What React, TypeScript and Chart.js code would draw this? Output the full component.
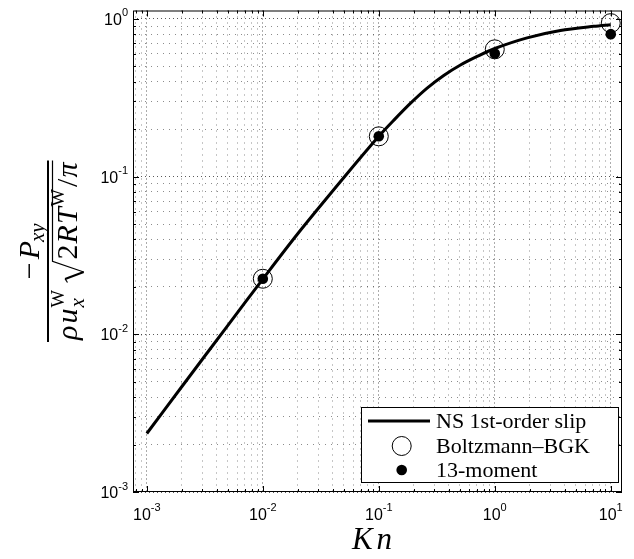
import React, { useEffect, useRef } from "react";
import { Chart, registerables } from "chart.js";

Chart.register(...registerables);

// ---------- data ----------
const knCurve = [0.001, 0.002, 0.005, 0.01, 0.02, 0.05, 0.1, 0.135, 0.188, 0.261, 0.363, 0.506, 0.705, 1, 1.9, 3.68, 7.13, 10];
const nsSlip = [0.00235, 0.00465, 0.0114, 0.0224, 0.0434, 0.0986, 0.18, 0.228, 0.292, 0.364, 0.438, 0.51, 0.578, 0.649, 0.758, 0.843, 0.897, 0.918];
const knPoints = [0.01, 0.1, 1, 10];
const bgkValues = [0.0225, 0.18, 0.641, 0.94];
const moment13Values = [0.0225, 0.18, 0.603, 0.8];

const xTickValues = [1e-3, 1e-2, 1e-1, 1, 10];
const xTickExponents = ["-3", "-2", "-1", "0", "1"];
const yTickValues = [1e-3, 1e-2, 1e-1, 1];
const yTickExponents = ["-3", "-2", "-1", "0"];
const seriesLabels = ["NS 1st-order slip", "Boltzmann\u2013BGK", "13-moment"];

const X_MIN = 7.6e-4;
const X_MAX = 12.5;
const Y_MIN = 1e-3;
const Y_MAX = 1.13;

const W = 634;
const H = 559;

function isMajor(v: number, majors: number[]) {
  return majors.some((m) => Math.abs(v - m) / m < 1e-6);
}

function gridValues(majors: number[], min: number, max: number) {
  const out: number[] = [];
  const decades = [majors[0] / 10, ...majors];
  for (const d of decades) {
    for (let m = 1; m <= 9; m++) {
      const v = d * m;
      if (v >= min * 0.9999 && v <= max * 1.0001) out.push(v);
    }
  }
  return out;
}

const serif = '"Liberation Serif", "Times New Roman", serif';
const sans = '"Liberation Sans", Arial, sans-serif';

type Run = { t: string; f: string; dy?: number; gap?: number; noAdvance?: boolean; sqrtStart?: boolean; sqrtEnd?: boolean };

function drawRuns(ctx: CanvasRenderingContext2D, runs: Run[], baseline: number, centerX: number, S: number) {
  let x = 0;
  const pos: number[] = [];
  let pendingStackW = 0;
  let sqrtX = 0;
  for (const r of runs) {
    x += r.gap || 0;
    if (r.sqrtStart) {
      sqrtX = x;
      x += 0.82 * S;
    }
    ctx.font = r.f;
    const w = ctx.measureText(r.t).width;
    pos.push(x);
    if (r.noAdvance) {
      pendingStackW = Math.max(pendingStackW, w);
    } else {
      x += Math.max(w, pendingStackW);
      pendingStackW = 0;
    }
  }
  const total = x;
  const x0 = centerX - total / 2;
  let sqrtEndX = 0;
  runs.forEach((r, i) => {
    ctx.font = r.f;
    ctx.fillText(r.t, x0 + pos[i], baseline + (r.dy || 0));
    if (r.sqrtEnd) {
      sqrtEndX = x0 + pos[i] + ctx.measureText(r.t).width + 2;
    }
  });
  if (sqrtEndX) {
    const sx = x0 + sqrtX;
    const vincY = baseline - 0.8 * S;
    ctx.save();
    ctx.lineJoin = "miter";
    ctx.lineCap = "butt";
    ctx.beginPath();
    ctx.lineWidth = 1.2;
    ctx.moveTo(sx + 0.05 * S, baseline - 0.3 * S);
    ctx.lineTo(sx + 0.17 * S, baseline - 0.38 * S);
    ctx.stroke();
    ctx.beginPath();
    ctx.lineWidth = 2.2;
    ctx.moveTo(sx + 0.17 * S, baseline - 0.38 * S);
    ctx.lineTo(sx + 0.4 * S, baseline + 0.24 * S);
    ctx.stroke();
    ctx.beginPath();
    ctx.lineWidth = 1.2;
    ctx.moveTo(sx + 0.4 * S, baseline + 0.24 * S);
    ctx.lineTo(sx + 0.76 * S, vincY);
    ctx.lineTo(sqrtEndX, vincY);
    ctx.stroke();
    ctx.restore();
  }
  return total;
}

const decorPlugin = {
  id: "matlabDecor",
  afterDraw(chart: any) {
    const { ctx, chartArea: ca, scales } = chart;
    const xs = scales.x;
    const ys = scales.y;
    ctx.save();
    ctx.fillStyle = "#000";
    ctx.strokeStyle = "#000";

    // inner tick marks
    ctx.lineWidth = 1;
    for (const t of xs.ticks) {
      const px = Math.round(xs.getPixelForValue(t.value)) + 0.5;
      const len = isMajor(t.value, xTickValues) ? 6 : 3;
      ctx.beginPath();
      ctx.moveTo(px, ca.bottom);
      ctx.lineTo(px, ca.bottom - len);
      ctx.moveTo(px, ca.top);
      ctx.lineTo(px, ca.top + len);
      ctx.stroke();
    }
    for (const t of ys.ticks) {
      const py = Math.round(ys.getPixelForValue(t.value)) + 0.5;
      const len = isMajor(t.value, yTickValues) ? 6 : 3;
      ctx.beginPath();
      ctx.moveTo(ca.left, py);
      ctx.lineTo(ca.left + len, py);
      ctx.moveTo(ca.right, py);
      ctx.lineTo(ca.right - len, py);
      ctx.stroke();
    }

    // axes box
    ctx.lineWidth = 1;
    ctx.strokeRect(ca.left + 0.5, ca.top + 0.5, ca.right - ca.left - 1, ca.bottom - ca.top - 1);

    // tick labels
    const f10 = `16px ${sans}`;
    const fsup = `11px ${sans}`;
    ctx.textBaseline = "alphabetic";
    ctx.textAlign = "left";
    xTickValues.forEach((v, i) => {
      const px = xs.getPixelForValue(v);
      ctx.font = f10;
      const w10 = ctx.measureText("10").width;
      ctx.font = fsup;
      const ws = ctx.measureText(xTickExponents[i]).width;
      const x0 = px - (w10 + ws) / 2;
      ctx.font = f10;
      ctx.fillText("10", x0, ca.bottom + 28);
      ctx.font = fsup;
      ctx.fillText(xTickExponents[i], x0 + w10, ca.bottom + 19);
    });
    yTickValues.forEach((v, i) => {
      const py = ys.getPixelForValue(v);
      ctx.font = f10;
      const w10 = ctx.measureText("10").width;
      ctx.font = fsup;
      const ws = ctx.measureText(yTickExponents[i]).width;
      const right = ca.left - 5;
      const x0 = right - ws - w10;
      ctx.font = f10;
      ctx.fillText("10", x0, py + 6);
      ctx.font = fsup;
      ctx.fillText(yTickExponents[i], x0 + w10, py - 2.5);
    });

    // x title
    ctx.font = `italic 31px ${serif}`;
    const kw = ctx.measureText("K").width;
    const nw = ctx.measureText("n").width;
    const midX = 372;
    const kx = midX - (kw + nw + 4) / 2;
    ctx.fillText("K", kx, ca.bottom + 57);
    ctx.fillText("n", kx + kw + 4, ca.bottom + 57);

    // y title (fraction), rotated
    const S = 30;
    const it = (s: number) => `italic ${s}px ${serif}`;
    const up = (s: number) => `${s}px ${serif}`;
    const numRuns: Run[] = [
      { t: "\u2212", f: up(S) },
      { t: "P", f: it(S), gap: 3 },
      { t: "xy", f: it(0.7 * S), dy: 0.15 * S, gap: -1 },
    ];
    const denRuns: Run[] = [
      { t: "\u03c1", f: it(S) },
      { t: "u", f: it(S), gap: 2 },
      { t: "x", f: it(0.7 * S), dy: 0.25 * S, noAdvance: true, gap: 1 },
      { t: "W", f: up(0.62 * S), dy: -0.42 * S },
      { t: "2", f: up(S), gap: 6, sqrtStart: true },
      { t: "R", f: it(S), gap: 1 },
      { t: "T", f: it(S), gap: 1 },
      { t: "W", f: up(0.62 * S), dy: -0.42 * S, gap: 1 },
      { t: "/", f: up(S), gap: 2 },
      { t: "\u03c0", f: it(S), sqrtEnd: true, gap: 1 },
    ];
    const cy = (ca.top + ca.bottom) / 2;
    ctx.save();
    ctx.translate(48, cy);
    ctx.rotate(-Math.PI / 2);
    const numW = drawRuns(ctx, numRuns, -9, 0, S);
    const denW = drawRuns(ctx, denRuns, 28.5, 0, S);
    const barW = Math.max(numW, denW) + 4;
    ctx.fillRect(-barW / 2, -1, barW, 2);
    ctx.restore();

    // legend
    const lx = 361;
    const ly = 407;
    const lw = 257;
    const lh = 75;
    ctx.fillStyle = "#fff";
    ctx.fillRect(lx, ly, lw, lh);
    ctx.strokeStyle = "#000";
    ctx.lineWidth = 1;
    ctx.strokeRect(lx + 0.5, ly + 0.5, lw, lh);
    ctx.fillStyle = "#000";
    const rows = [ly + 14, ly + 39, ly + 63];
    const symX = 401.7;
    ctx.lineWidth = 3;
    ctx.beginPath();
    ctx.moveTo(368, rows[0]);
    ctx.lineTo(430, rows[0]);
    ctx.stroke();
    ctx.lineWidth = 1;
    ctx.beginPath();
    ctx.arc(symX, rows[1], 9.5, 0, Math.PI * 2);
    ctx.stroke();
    ctx.beginPath();
    ctx.arc(symX, rows[2], 5.3, 0, Math.PI * 2);
    ctx.fill();
    ctx.font = `22px ${serif}`;
    ctx.textBaseline = "middle";
    seriesLabels.forEach((s, i) => ctx.fillText(s, 436, rows[i] + 1));
    ctx.restore();
  },
};

export default function App() {
  const ref = useRef<HTMLCanvasElement | null>(null);
  useEffect(() => {
    if (!ref.current) return;
    const majorColor = "rgba(0,0,0,0.65)";
    const minorColor = "rgba(0,0,0,0.45)";
    const chart = new Chart(ref.current, {
      type: "scatter",
      data: {
        datasets: [
          {
            label: seriesLabels[0],
            data: knCurve.map((k, i) => ({ x: k, y: nsSlip[i] })),
            showLine: true,
            borderColor: "#000",
            borderWidth: 3,
            pointRadius: 0,
            pointHoverRadius: 0,
            tension: 0.3,
            fill: false,
            clip: false,
          } as any,
          {
            label: seriesLabels[1],
            data: knPoints.map((k, i) => ({ x: k, y: bgkValues[i] })),
            showLine: false,
            pointRadius: 9.5,
            pointHoverRadius: 9.5,
            pointBorderWidth: 1,
            pointBorderColor: "#000",
            pointBackgroundColor: "rgba(0,0,0,0)",
            clip: false,
          } as any,
          {
            label: seriesLabels[2],
            data: knPoints.map((k, i) => ({ x: k, y: moment13Values[i] })),
            showLine: false,
            pointRadius: 5.3,
            pointHoverRadius: 5.3,
            pointBorderWidth: 0,
            pointBackgroundColor: "#000",
            clip: false,
          } as any,
        ],
      },
      options: {
        animation: false,
        responsive: false,
        events: [],
        layout: { padding: { top: 3, right: 12, left: 0, bottom: 0 } },
        plugins: { legend: { display: false }, tooltip: { enabled: false } },
        scales: {
          x: {
            type: "logarithmic",
            min: X_MIN,
            max: X_MAX,
            afterBuildTicks: (s: any) => {
              s.ticks = gridValues(xTickValues, X_MIN, X_MAX).map((v) => ({ value: v, major: isMajor(v, xTickValues) }));
            },
            afterFit: (s: any) => {
              s.height = H - 492;
            },
            ticks: { display: false },
            grid: {
              drawTicks: false,
              lineWidth: 1,
              color: (c: any) => (c.tick && isMajor(c.tick.value, xTickValues) ? majorColor : minorColor),
            },
            border: {
              display: false,
              dash: (c: any) => (c.tick && isMajor(c.tick.value, xTickValues) ? [1, 3] : [1, 5]),
            },
          } as any,
          y: {
            type: "logarithmic",
            min: Y_MIN,
            max: Y_MAX,
            afterBuildTicks: (s: any) => {
              s.ticks = gridValues(yTickValues, Y_MIN, Y_MAX).map((v) => ({ value: v, major: isMajor(v, yTickValues) }));
            },
            afterFit: (s: any) => {
              s.width = 133;
            },
            ticks: { display: false },
            grid: {
              drawTicks: false,
              lineWidth: 1,
              color: (c: any) => (c.tick && isMajor(c.tick.value, yTickValues) ? majorColor : minorColor),
            },
            border: {
              display: false,
              dash: (c: any) => (c.tick && isMajor(c.tick.value, yTickValues) ? [1, 3] : [1, 5]),
            },
          } as any,
        },
      },
      plugins: [decorPlugin],
    });
    return () => chart.destroy();
  }, []);
  return (
    <div style={{ position: "fixed", left: 0, top: 0, width: W, height: H, background: "#fff" }}>
      <canvas ref={ref} width={W} height={H} style={{ display: "block", width: W, height: H }} />
    </div>
  );
}
